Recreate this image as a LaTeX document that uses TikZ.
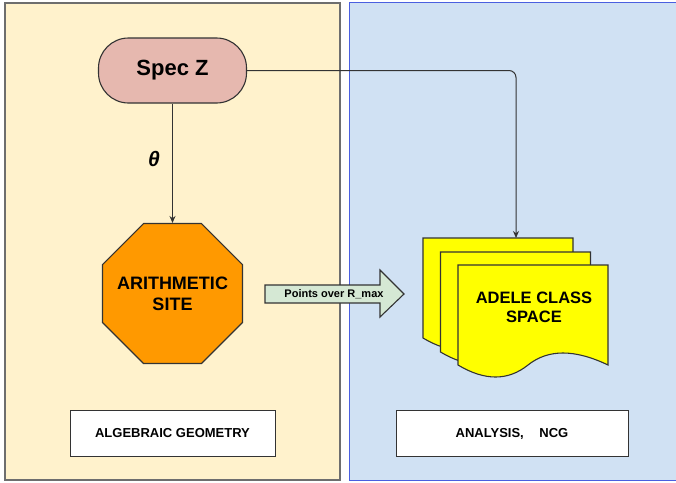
\documentclass[tikz,border=0pt]{standalone}
\usepackage{fontspec}
\setmainfont{Liberation Sans}
\usetikzlibrary{shapes.geometric,arrows.meta}
\definecolor{leftfill}{HTML}{FFF2CC}
\definecolor{leftline}{HTML}{6E6E6E}
\definecolor{rightfill}{HTML}{D0E1F3}
\definecolor{rightline}{HTML}{4A5FE0}
\definecolor{specfill}{HTML}{E6B8AF}
\definecolor{sitefill}{HTML}{FF9900}
\definecolor{docfill}{HTML}{FFFF00}
\definecolor{arrowfill}{HTML}{D5E8D4}
\definecolor{edge}{HTML}{333333}
\begin{document}
\begin{tikzpicture}[x=1pt,y=-1pt,
  panel/.style={line width=1.5pt},
  conn/.style={draw=edge,line width=1pt,-{Stealth[length=7pt,width=6pt]}},
  shapeline/.style={draw=edge,line width=1.1pt},
  boxlabel/.style={draw=edge,fill=white,line width=1pt,minimum width=205pt,minimum height=46pt,font=\bfseries\fontsize{13}{15}\selectfont},
  doc/.style={shapeline,fill=docfill}]
\useasboundingbox (0,0) rectangle (676,482);
% panels
\fill[white] (0,0) rectangle (676,482);
\draw[panel,draw=leftline,fill=leftfill] (5,3) rectangle (340,480);
\draw[line width=1pt,draw=rightline,fill=rightfill] (349,2) rectangle (690,480);
% Spec Z
\node[shapeline,fill=specfill,rectangle,rounded corners=30pt,minimum width=148pt,minimum height=65pt,
      font=\bfseries\fontsize{22}{26}\selectfont] (spec) at (172.5,70.5) {Spec Z};
% octagon
\node[shapeline,fill=sitefill,regular polygon,regular polygon sides=8,minimum size=151.5pt,inner sep=0pt] (site) at (172.5,293.5) {};
\node[font=\bfseries\fontsize{18}{21}\selectfont,align=center] (sitetext) at (site.center) {ARITHMETIC\\SITE};
% theta label
\node[font=\bfseries\itshape\fontsize{21}{24}\selectfont] (theta) at (154,159) {θ};
\draw[conn] (spec.south) -- (site.north);
% big arrow
\coordinate (a1) at (265,285);
\coordinate (a2) at (380,285);
\coordinate (a3) at (380,270);
\coordinate (a4) at (404,294);
\coordinate (a5) at (380,317);
\coordinate (a6) at (380,303);
\coordinate (a7) at (265,303);
\draw[shapeline,fill=arrowfill] (a1)--(a2)--(a3)--(a4)--(a5)--(a6)--(a7)--cycle;
\node[font=\bfseries\fontsize{11}{13}\selectfont] (ptext) at (334,294) {Points over R\_max};
% documents
\foreach \dx/\dy in {423/238,440.5/252,458/265}{
  \begin{scope}[shift={(\dx,\dy)}]
  \draw[doc] (0,0) -- (150,0) -- (150,100)
     .. controls (116.67,84) and (90,84) .. (70,100)
     .. controls (50,116) and (26.67,116) .. (0,100) -- cycle;
  \end{scope}
}
\coordinate (docin) at (516,238);
\node[font=\bfseries\fontsize{16.5}{19.5}\selectfont,align=center] (doctext) at (534,307.5) {ADELE CLASS\\SPACE};
\draw[conn,rounded corners=7pt] (spec.east) -| (docin);
% bottom labels
\node[boxlabel] (alg) at (172.5,433.5) {ALGEBRAIC GEOMETRY};
\node[boxlabel,minimum width=232pt] (ana) at (512,433.5) {ANALYSIS,\hspace{1.2em}NCG};
\end{tikzpicture}
\end{document}
